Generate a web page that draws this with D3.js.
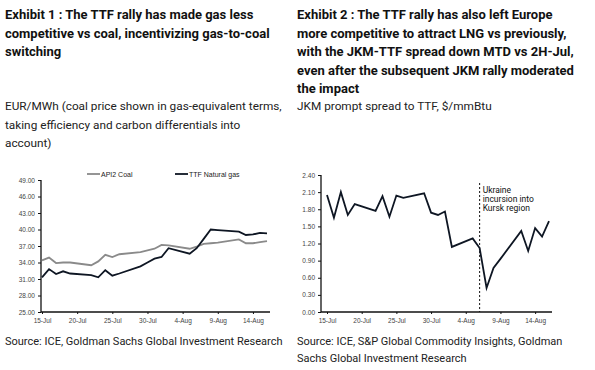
<!DOCTYPE html>
<html>
<head>
<meta charset="utf-8">
<script src="https://cdn.jsdelivr.net/npm/d3@7"></script>
<style>
  body { margin: 0; background: #fff; }
  svg text { font-family: Roboto, "Liberation Sans", sans-serif; }
  .title { font-weight: bold; font-size: 13px; fill: #111; }
  .sub { font-size: 11.8px; fill: #222; }
  .source { font-size: 11px; fill: #222; }
  .tick text { font-family: "Liberation Sans", Arial, sans-serif; font-size: 6.5px; fill: #444; }
  .axis path, .axis line { stroke: #111; }
</style>
</head>
<body>
<div id="chart"></div>
<script>
// trading days, 15 Jul - 16 Aug 2024
let dates = ["2024-07-15","2024-07-16","2024-07-17","2024-07-18","2024-07-19",
    "2024-07-22","2024-07-23","2024-07-24","2024-07-25","2024-07-26",
    "2024-07-29","2024-07-30","2024-07-31","2024-08-01","2024-08-02",
    "2024-08-05","2024-08-06","2024-08-07","2024-08-08","2024-08-09",
    "2024-08-12","2024-08-13","2024-08-14","2024-08-15","2024-08-16"];

let coalValues = [34.4, 34.9, 33.9, 34.0, 34.0,
    33.5, 34.2, 35.4, 35.0, 35.5,
    35.9, 36.2, 36.5, 37.2, 37.1,
    36.5, 36.9, 37.4, 37.5, 37.6,
    38.2, 37.5, 37.5, 37.7, 37.9];

let ttfValues = [31.3, 32.8, 31.9, 32.4, 32.0,
    31.7, 31.3, 32.6, 31.6, 32.0,
    33.3, 34.0, 34.7, 35.0, 36.6,
    35.6, 36.6, 38.3, 40.0, 39.9,
    39.6, 39.0, 39.1, 39.4, 39.3];

let spreadValues = [2.05, 1.65, 2.10, 1.70, 1.89,
    1.77, 2.03, 1.67, 2.04, 2.00,
    2.08, 1.74, 1.70, 1.76, 1.14,
    1.29, 1.12, 0.42, 0.77, 0.93,
    1.42, 1.07, 1.47, 1.32, 1.59];

let leftTicks = [25, 28, 31, 34, 37, 40, 43, 46, 49];
let rightTicks = [0, 0.3, 0.6, 0.9, 1.2, 1.5, 1.8, 2.1, 2.4];
let xTickDates = ["2024-07-15","2024-07-20","2024-07-25","2024-07-30","2024-08-04","2024-08-09","2024-08-14"];
let eventDate = "2024-08-06";

let leftTitle = ["Exhibit 1 : The TTF rally has made gas less",
    "competitive vs coal, incentivizing gas-to-coal",
    "switching"];
let leftSub = ["EUR/MWh (coal price shown in gas-equivalent terms,",
    "taking efficiency and carbon differentials into",
    "account)"];
let leftSource = ["Source: ICE, Goldman Sachs Global Investment Research"];
let rightTitle = ["Exhibit 2 : The TTF rally has also left Europe",
    "more competitive to attract LNG vs previously,",
    "with the JKM-TTF spread down MTD vs 2H-Jul,",
    "even after the subsequent JKM rally moderated",
    "the impact"];
let rightSub = ["JKM prompt spread to TTF, $/mmBtu"];
let rightSource = ["Source: ICE, S&P Global Commodity Insights, Goldman",
    "Sachs Global Investment Research"];
let eventLabel = ["Ukraine", "incursion into", "Kursk region"];

let parse = d3.utcParse("%Y-%m-%d");
let fmtTick = d3.utcFormat("%-d-%b");

let svg = d3.select("#chart").append("svg")
    .attr("width", 595)
    .attr("height", 370);

function textBlock(lines, x, y, cls, step){
    let t = svg.append("text").attr("class", cls);
    lines.forEach(function(l, i){
        t.append("tspan").attr("x", x).attr("y", y + i * step).text(l);
    });
    return t;
}

textBlock(leftTitle, 5, 19, "title", 18.5);
textBlock(leftSub, 5, 110, "sub", 18.5);
textBlock(leftSource, 5, 345, "source", 17);
textBlock(rightTitle, 297, 19, "title", 18.5);
textBlock(rightSub, 297, 110, "sub", 18.5);
textBlock(rightSource, 297, 345, "source", 17);

let parsedDates = dates.map(parse);
let xDomain = [parse("2024-07-15"), parse("2024-08-16")];

function drawAxes(g, x, y, ticks, fmt, x0, x1){
    g.append("g")
        .attr("class", "axis")
        .attr("transform", "translate(" + x0 + ",0)")
        .call(d3.axisLeft(y).tickValues(ticks).tickSize(3).tickFormat(fmt))
        .call(function(a){ a.select(".domain").attr("d", "M0," + y.range()[1] + "V" + y.range()[0]).attr("stroke-width", 1.3); })
        .call(function(a){ a.selectAll(".tick text").attr("x", -6); });

    g.append("g")
        .attr("class", "axis")
        .attr("transform", "translate(0," + y.range()[0] + ")")
        .call(d3.axisBottom(x).tickValues(xTickDates.map(parse)).tickSize(2).tickFormat(fmtTick))
        .call(function(a){ a.select(".domain").attr("d", "M" + x0 + ",0H" + x1).attr("stroke-width", 1.5); })
        .call(function(a){ a.selectAll(".tick text").attr("y", 6); });
}

// ---- left chart
let xL = d3.scaleUtc().domain(xDomain).range([42, 267]);
let yL = d3.scaleLinear().domain([25, 49]).range([312, 180]);
let gL = svg.append("g");
drawAxes(gL, xL, yL, leftTicks, d3.format(".2f"), 41, 270);

let lineL = d3.line()
    .x(function(d, i){ return xL(parsedDates[i]); })
    .y(function(d){ return yL(d); });

gL.append("path").datum(coalValues)
    .attr("d", lineL).attr("fill", "none")
    .attr("stroke", "#8a8a8a").attr("stroke-width", 1.8);
gL.append("path").datum(ttfValues)
    .attr("d", lineL).attr("fill", "none")
    .attr("stroke", "#0e1623").attr("stroke-width", 1.8);

let legend = [{label: "API2 Coal", color: "#8a8a8a", x: 87}, {label: "TTF Natural gas", color: "#0e1623", x: 175}];
legend.forEach(function(l){
    gL.append("line").attr("x1", l.x).attr("x2", l.x + 13).attr("y1", 174).attr("y2", 174)
        .attr("stroke", l.color).attr("stroke-width", 1.8);
    gL.append("text").attr("x", l.x + 14).attr("y", 176.5)
        .style("font-family", "'Liberation Sans', Arial, sans-serif")
        .style("font-size", "7px").attr("fill", "#222").text(l.label);
});

// ---- right chart
let xR = d3.scaleUtc().domain(xDomain).range([327, 549]);
let yR = d3.scaleLinear().domain([0, 2.4]).range([312, 175]);
let gR = svg.append("g");
drawAxes(gR, xR, yR, rightTicks, d3.format(".2f"), 321, 552);

gR.append("line")
    .attr("x1", xR(parse(eventDate))).attr("x2", xR(parse(eventDate)))
    .attr("y1", 183).attr("y2", 312)
    .attr("stroke", "#111").attr("stroke-width", 1).attr("stroke-dasharray", "2,2");

let ev = gR.append("text")
    .style("font-size", "8.5px").attr("fill", "#111");
eventLabel.forEach(function(l, i){
    ev.append("tspan").attr("x", xR(parse(eventDate)) + 3).attr("y", 193 + i * 9).text(l);
});

let lineR = d3.line()
    .x(function(d, i){ return xR(parsedDates[i]); })
    .y(function(d){ return yR(d); });

gR.append("path").datum(spreadValues)
    .attr("d", lineR).attr("fill", "none")
    .attr("stroke", "#0e1623").attr("stroke-width", 1.8);
</script>
</body>
</html>
